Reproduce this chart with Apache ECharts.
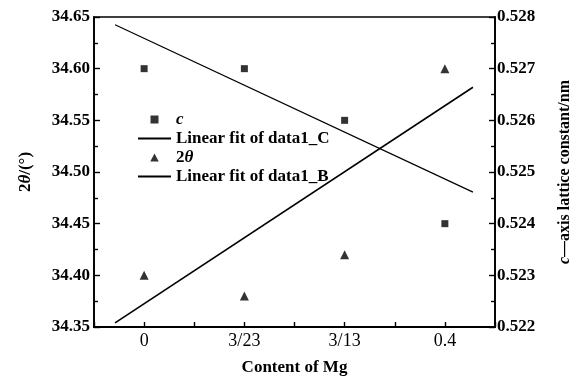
<!DOCTYPE html>
<html><head><meta charset="utf-8">
<script src="https://cdn.jsdelivr.net/npm/echarts@6/dist/echarts.min.js"></script>
<style>html,body{margin:0;padding:0;background:#fff}#c{width:578px;height:380px}</style>
</head><body><div id="c"></div>
<script>
const categories = ['0', '3/23', '3/13', '0.4'];
const cValues = [0.527, 0.527, 0.526, 0.524];
const twoThetaValues = [34.40, 34.38, 34.42, 34.60];
const fitCX = [-0.29, 3.28];
const fitCY = [0.52785, 0.52461];
const fitBX = [-0.29, 3.28];
const fitBY = [34.354, 34.582];
const leftTickLabels = ['34.35', '34.40', '34.45', '34.50', '34.55', '34.60', '34.65'];
const rightTickLabels = ['0.522', '0.523', '0.524', '0.525', '0.526', '0.527', '0.528'];

const F = "'Liberation Serif', 'DejaVu Serif', serif";
const chart = echarts.init(document.getElementById('c'));

function lookup(arr, v, min, step) {
  const i = Math.round((v - min) / step);
  return Math.abs((v - min) / step - i) < 1e-6 && arr[i] !== undefined ? arr[i] : '';
}

const axisLineStyle = { color: '#000', width: 1.8 };
const tickStyle = { color: '#000', width: 1.4 };
const hideDot = { color: 'transparent', borderWidth: 0, opacity: 0 };
// legend icons: tiny corner specks fix the icon box so the marker keeps its shape in the middle
const squareIcon = 'path://M0,0L0.01,0L0,0.01Z M12.5,0H20.5V8H12.5Z M33,8L32.99,8L33,7.99Z';
const triangleIcon = 'path://M0,0L0.01,0L0,0.01Z M12,8L16.5,-0.5L21,8Z M33,8L32.99,8L33,7.99Z';

chart.setOption({
  backgroundColor: '#fff',
  animation: false,
  grid: {
    left: 94, right: 83, top: 17, bottom: 53, outerBoundsMode: 'none', containLabel: false,
    show: true, borderColor: '#000', borderWidth: 1.6, backgroundColor: 'transparent'
  },
  legend: {
    orient: 'vertical', left: 132, top: 106,
    itemWidth: 33, itemHeight: 8, itemGap: 2,
    data: [
      { name: 'c', icon: squareIcon },
      { name: 'Linear fit of data1_C', itemStyle: hideDot },
      { name: '2θ', icon: triangleIcon },
      { name: 'Linear fit of data1_B', itemStyle: hideDot }
    ],
    formatter: function (n) {
      if (n === 'c') return '{i|c}';
      if (n === '2θ') return '2{i|θ}';
      return n;
    },
    textStyle: {
      fontFamily: F, fontSize: 17, fontWeight: 'bold', color: '#000',
      rich: { i: { fontFamily: F, fontSize: 17, fontWeight: 'bold', fontStyle: 'italic', color: '#000' } }
    }
  },
  xAxis: {
    type: 'value', min: -0.5, max: 3.5, interval: 0.5,
    axisLine: { show: true, onZero: false, lineStyle: axisLineStyle },
    axisTick: { show: true, inside: true, length: 5, lineStyle: tickStyle },
    splitLine: { show: false },
    axisLabel: {
      formatter: function (v) { return lookup(categories, v, 0, 1); },
      fontFamily: F, fontSize: 18, color: '#000', margin: 5, showMinLabel: true, showMaxLabel: true
    },
    name: 'Content of Mg', nameLocation: 'middle', nameGap: 32,
    nameTextStyle: { fontFamily: F, fontSize: 17, fontWeight: 'bold', color: '#000' }
  },
  yAxis: [
    {
      type: 'value', min: 34.35, max: 34.65, interval: 0.05, position: 'left',
      axisLine: { show: true, onZero: false, lineStyle: axisLineStyle },
      axisTick: { show: true, inside: true, length: 6, lineStyle: tickStyle },
      minorTick: { show: true, splitNumber: 2, length: 4, lineStyle: tickStyle },
      splitLine: { show: false }, minorSplitLine: { show: false },
      axisLabel: {
        formatter: function (v) { return lookup(leftTickLabels, v, 34.35, 0.05); },
        fontFamily: F, fontSize: 17, fontWeight: 'bold', color: '#000', margin: 4
      },
      name: '2{i|θ}/(°)', nameLocation: 'middle', nameGap: 60, nameRotate: 90,
      nameTextStyle: {
        fontFamily: F, fontSize: 17, fontWeight: 'bold', color: '#000',
        rich: { i: { fontFamily: F, fontSize: 17, fontWeight: 'bold', fontStyle: 'italic', color: '#000' } }
      }
    },
    {
      type: 'value', min: 0.522, max: 0.528, interval: 0.001, position: 'right',
      axisLine: { show: true, onZero: false, lineStyle: axisLineStyle },
      axisTick: { show: true, inside: true, length: 6, lineStyle: tickStyle },
      minorTick: { show: true, splitNumber: 2, length: 4, lineStyle: tickStyle },
      splitLine: { show: false }, minorSplitLine: { show: false },
      axisLabel: {
        formatter: function (v) { return lookup(rightTickLabels, v, 0.522, 0.001); },
        fontFamily: F, fontSize: 17, fontWeight: 'bold', color: '#000', margin: 2
      },
      name: '{i|c}—axis lattice constant/nm', nameLocation: 'middle', nameGap: 62, nameRotate: 90,
      nameTextStyle: {
        fontFamily: F, fontSize: 16, fontWeight: 'bold', color: '#000',
        rich: { i: { fontFamily: F, fontSize: 16, fontWeight: 'bold', fontStyle: 'italic', color: '#000' } }
      }
    }
  ],
  series: [
    {
      name: 'c', type: 'scatter', yAxisIndex: 1, symbol: 'rect', symbolSize: 7,
      itemStyle: { color: '#000' },
      data: cValues.map(function (v, i) { return [i, v]; })
    },
    {
      name: 'Linear fit of data1_C', type: 'line', yAxisIndex: 1, symbol: 'none',
      lineStyle: { color: '#000', width: 1.2 }, itemStyle: { color: '#000' },
      data: fitCX.map(function (x, i) { return [x, fitCY[i]]; })
    },
    {
      name: '2θ', type: 'scatter', yAxisIndex: 0, symbol: 'triangle', symbolSize: 9,
      itemStyle: { color: '#000' },
      data: twoThetaValues.map(function (v, i) { return [i, v]; })
    },
    {
      name: 'Linear fit of data1_B', type: 'line', yAxisIndex: 0, symbol: 'none',
      lineStyle: { color: '#000', width: 1.6 }, itemStyle: { color: '#000' },
      data: fitBX.map(function (x, i) { return [x, fitBY[i]]; })
    }
  ]
});
</script>
</body></html>
